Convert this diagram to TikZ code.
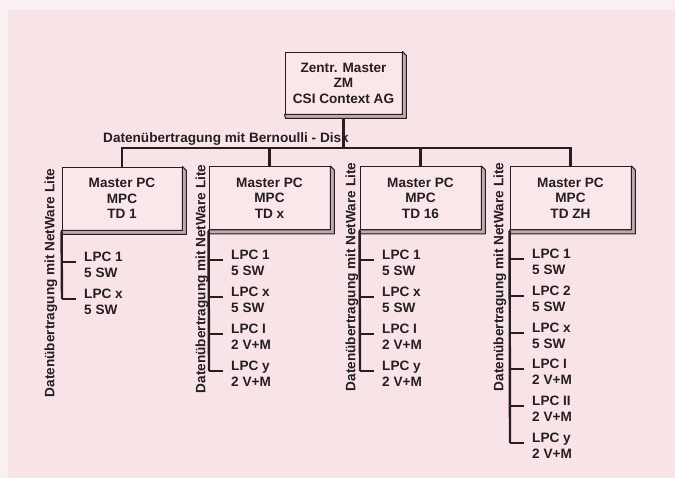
\documentclass[tikz,border=0pt]{standalone}
\usepackage{fontspec}
\setmainfont{Liberation Sans}
\definecolor{bgpink}{RGB}{248,228,230}
\definecolor{bgtop}{RGB}{251,240,241}
\definecolor{facepink}{RGB}{249,231,233}
\definecolor{bevel}{RGB}{190,170,172}
\definecolor{ink}{RGB}{38,30,32}
\tikzset{
  txt/.style={font=\fontsize{13.6}{15.5}\selectfont\bfseries, text=ink, inner sep=0pt},
  mbox/.style={txt, draw=ink, line width=0.9pt, fill=facepink, align=center, minimum width=120pt, minimum height=63pt},
  bevelstrip/.style={draw=ink, line width=1pt, fill=bevel, line join=round},
  wire/.style={draw=ink, line width=2.4pt},
  tickline/.style={draw=ink, line width=2.4pt},
  lpc/.style={txt, align=left, anchor=west},
  vlabel/.style={txt, rotate=90}
}
\newcommand{\bevelof}[1]{%
  \path[bevelstrip] (#1.north east) -- ([shift={(4,4)}]#1.north east) -- ([shift={(4,4)}]#1.south east) -- ([shift={(1,4)}]#1.south west) -- (#1.south west) -- (#1.south east) -- cycle;}
\begin{document}
\begin{tikzpicture}[x=1pt,y=-1pt]
\fill[bgpink] (0,0) rectangle (675,478);
\fill[bgtop] (0,0) rectangle (675,10);
\fill[bgtop] (0,0) rectangle (8,478);
\useasboundingbox (0,0) rectangle (675,478);

% top box
\node[mbox, minimum width=117pt, minimum height=62pt] (top) at (343.5,83) {Zentr. Master\\ZM\\CSI Context AG};
\bevelof{top}

% master boxes
\node[mbox] (b1) at (122,198.5) {Master PC\\MPC\\TD 1};
\node[mbox, minimum width=121pt] (b2) at (269.5,198) {Master PC\\MPC\\TD x};
\node[mbox, minimum width=121pt] (b3) at (420.5,198) {Master PC\\MPC\\TD 16};
\node[mbox, minimum width=121pt] (b4) at (570.5,198) {Master PC\\MPC\\TD ZH};
\foreach \b in {b1,b2,b3,b4} {\bevelof{\b}}

% bus
\coordinate (bus) at (343.5,148);
\draw[wire] ([yshift=-4pt]top.south) -- (top.south |- bus);
\draw[wire, line join=miter] (b1.north) -- (b1.north |- bus) -- (b4.north |- bus) -- (b4.north);
\draw[wire] (b2.north |- bus) -- (b2.north);
\draw[wire] (b3.north |- bus) -- (b3.north);
\node[txt, anchor=base west] (buslabel) at (103,143) {Datenübertragung mit Bernoulli - Disk};

% vertical labels
\node[vlabel] (v1) at (51,283) {Datenübertragung mit NetWare Lite};
\node[vlabel] (v2) at (202,279) {Datenübertragung mit NetWare Lite};
\node[vlabel] (v3) at (352,277) {Datenübertragung mit NetWare Lite};
\node[vlabel] (v4) at (500,277) {Datenübertragung mit NetWare Lite};

% children box 1
\coordinate (t11) at (62,262);
\coordinate (t12) at (62,299);
\node[lpc] (c11) at ([shift={(22,3)}]t11) {LPC 1\\5 SW};
\node[lpc] (c12) at ([shift={(22,3)}]t12) {LPC x\\5 SW};
\draw[wire] ([yshift=-1pt]b1.south west) -- (t12);
\foreach \t in {t11,t12} {\draw[tickline] (\t) -- ++(14,0);}

% children box 2
\coordinate (t21) at (209,260);
\coordinate (t22) at (209,297);
\coordinate (t23) at (209,334);
\coordinate (t24) at (209,371);
\node[lpc] (c21) at ([shift={(22,3)}]t21) {LPC 1\\5 SW};
\node[lpc] (c22) at ([shift={(22,3)}]t22) {LPC x\\5 SW};
\node[lpc] (c23) at ([shift={(22,3)}]t23) {LPC I\\2 V+M};
\node[lpc] (c24) at ([shift={(22,3)}]t24) {LPC y\\2 V+M};
\draw[wire] ([yshift=-1pt]b2.south west) -- (t24);
\foreach \t in {t21,t22,t23,t24} {\draw[tickline] (\t) -- ++(14,0);}

% children box 3
\coordinate (t31) at (360,260);
\coordinate (t32) at (360,297);
\coordinate (t33) at (360,334);
\coordinate (t34) at (360,371);
\node[lpc] (c31) at ([shift={(22,3)}]t31) {LPC 1\\5 SW};
\node[lpc] (c32) at ([shift={(22,3)}]t32) {LPC x\\5 SW};
\node[lpc] (c33) at ([shift={(22,3)}]t33) {LPC I\\2 V+M};
\node[lpc] (c34) at ([shift={(22,3)}]t34) {LPC y\\2 V+M};
\draw[wire] ([yshift=-1pt]b3.south west) -- (t34);
\foreach \t in {t31,t32,t33,t34} {\draw[tickline] (\t) -- ++(14,0);}

% children box 4
\coordinate (t41) at (510,259);
\coordinate (t42) at (510,296);
\coordinate (t43) at (510,333);
\coordinate (t44) at (510,369);
\coordinate (t45) at (510,406);
\coordinate (t46) at (510,443);
\node[lpc] (c41) at ([shift={(22,3)}]t41) {LPC 1\\5 SW};
\node[lpc] (c42) at ([shift={(22,3)}]t42) {LPC 2\\5 SW};
\node[lpc] (c43) at ([shift={(22,3)}]t43) {LPC x\\5 SW};
\node[lpc] (c44) at ([shift={(22,3)}]t44) {LPC I\\2 V+M};
\node[lpc] (c45) at ([shift={(22,3)}]t45) {LPC II\\2 V+M};
\node[lpc] (c46) at ([shift={(22,3)}]t46) {LPC y\\2 V+M};
\draw[wire] ([yshift=-1pt]b4.south west) -- (t46);
\foreach \t in {t41,t42,t43,t44,t45,t46} {\draw[tickline] (\t) -- ++(14,0);}
\end{tikzpicture}
\end{document}
